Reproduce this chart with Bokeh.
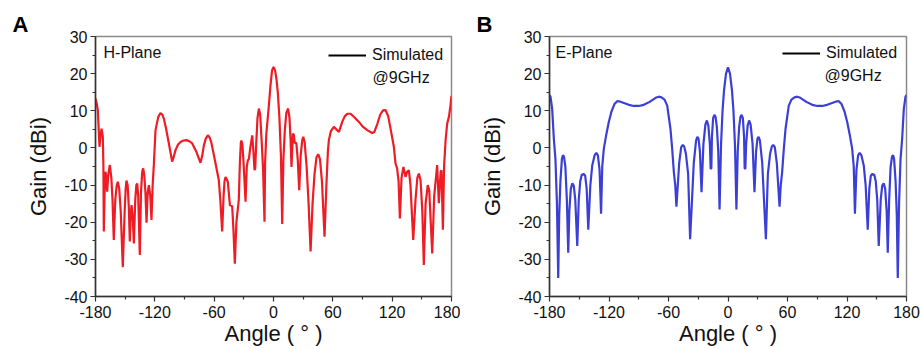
from bokeh.plotting import figure
from bokeh.layouts import row
from bokeh.models import Label, Legend, LegendItem, FixedTicker, Range1d
from bokeh.embed import file_html
from bokeh.resources import INLINE

# ---------------- data ----------------
x_ticks = [-180, -120, -60, 0, 60, 120, 180]
x_minor = [-150, -90, -30, 30, 90, 150]
y_ticks = [-40, -30, -20, -10, 0, 10, 20, 30]
y_minor = [-35, -25, -15, -5, 5, 15, 25]

h_angle = [-180, -178.8, -177.6, -176.6, -176, -175, -173.9, -172.6, -172, -171.6,
           -170.8, -169.9, -169, -168.2, -167, -165.5, -164, -162.8, -161.5, -160,
           -158.5, -157.4, -156, -154.5, -152.4, -150.5, -149.5, -148.7, -147.5, -146.3,
           -145.3, -144.5, -143.6, -142.5, -141.2, -139.8, -138.7, -137.8, -136.8, -135.2,
           -134, -132.8, -131.8, -130.8, -129.5, -128.4, -127.2, -126, -124.6, -123.4,
           -122.2, -121, -119.3, -116.6, -114.3, -112.5, -110.9, -108.5, -105.8, -102.5,
           -101, -99.1, -96.5, -94, -91, -88, -85, -82.2, -77.9, -73.8,
           -72, -70.4, -68.5, -66.4, -64.5, -63, -61, -58.6, -55.3, -53.8,
           -51.9, -50.5, -49.5, -48.5, -47.2, -46.2, -44.1, -41.8, -40.5, -39.1,
           -37.5, -35.1, -34, -33, -32.5, -31.5, -30.5, -29.5, -28.3, -27,
           -25.9, -24.9, -23.5, -21.5, -20.3, -19.2, -18.5, -17.5, -16.2, -14.8,
           -13.5, -12, -10.5, -9.1, -8.5, -7.2, -6, -4.5, -3, -1.5,
           0, 1.5, 3, 4.5, 6, 7.5, 8.8, 10, 11.5, 13,
           14.8, 16.2, 17.3, 18.2, 19.6, 20.5, 21.6, 22.5, 23.2, 24.5,
           26, 27.5, 29, 30.1, 31.5, 33.5, 35.5, 37.5, 39.5, 41.5,
           43.5, 45.2, 47, 49, 51.6, 53.5, 55, 56, 58, 61.1,
           63.5, 66.2, 69.5, 72, 74.6, 78, 82, 86.4, 90, 94.8,
           99.9, 102, 105, 108, 110.7, 113.3, 116, 118.5, 121.7, 123.4,
           125, 126.5, 127.8, 129.5, 131.4, 133.5, 135, 136.9, 138.5, 141.3,
           143.6, 145.5, 147, 148.7, 150.5, 152, 153.8, 156, 157.5, 160.5,
           162.5, 165.5, 167.2, 169, 169.9, 171.3, 172.5, 174, 175.6, 177.5,
           179, 180]
h_gain = [13.3, 12, 10.1, 4, 0.3, 3, 5.2, 3, -5, -22.5,
          -12, -6.4, -8, -11.8, -7, -4.6, -8, -14, -24.8, -14,
          -10, -9.1, -11, -17, -32.1, -17, -11, -8.8, -10, -16,
          -25.2, -19, -15.4, -18, -25.7, -14, -10, -9.6, -13, -28.8,
          -12, -6.5, -5.5, -7, -12, -20.1, -12, -10, -13, -19.4,
          -10, -4.5, 4.8, 8.3, 9.4, 9, 7.9, 5, 1.2, -3.7,
          -2.5, -0.6, 0.9, 1.6, 2, 2.1, 1.8, 1.2, -1.1, -4,
          -2, 0.7, 2.5, 3.4, 2.8, 1.6, -1, -4.2, -8.7, -14,
          -22.5, -13, -9, -7.8, -8.5, -9.1, -15.4, -15.7, -22, -31.2,
          -20, -14, -4, 1.5, 2, 1, -3, -8, -14.5, -5,
          -3.3, -3, 0, 3.4, -1, -6, -5.5, 1, 8, 10.6,
          9, 2, -6, -19.9, -4, 4, 7.5, 12, 17, 20.8,
          21.8, 21, 18.5, 14.5, 8, -2, -20.5, -3, 5, 9.5,
          10.6, 8, 2, -5.1, 3.9, 3.5, 1.2, 1.5, 1, -3,
          -11.4, -2, 2, 3, 1.5, -5, -15, -27.9, -15, -7,
          -2.5, -1.7, -3, -9, -23.9, -10, -1, 2.1, 4.5, 5.7,
          5, 4.3, 7, 8.5, 9.2, 9.2, 8.2, 7, 5.8, 4.8,
          4, 4.3, 6.5, 9, 10.1, 10.2, 8.5, 5, 0.3, -4.2,
          -5.5, -9, -19, -8, -5.1, -7.8, -6.5, -6, -10, -24.8,
          -14, -8, -6.9, -8.7, -17, -31.5, -15, -10, -11.5, -28.4,
          -13, -4.6, -14.9, -6.5, -6, -22, -5, 2, 6.5, 8.5,
          11.5, 14]

e_angle = [-180, -179, -177.3, -175.6, -174, -172.5, -171.2, -170.2, -169, -167.5,
           -166.5, -165.5, -164, -162.5, -161.1, -160, -158.5, -157, -155.5, -154,
           -152, -150.5, -149, -147.5, -145.5, -144, -142.5, -140.9, -138.8, -136.9,
           -134.5, -132.8, -131.2, -129.5, -128, -126.8, -125.2, -122.8, -120.2, -117.5,
           -114.5, -111.7, -109, -105, -100, -95, -90, -85, -79, -73,
           -69.8, -67, -64, -61.3, -58, -56.3, -54.6, -53.2, -52, -49.2,
           -47.2, -45.6, -44.2, -42.5, -40.2, -38.2, -34.5, -32.2, -30.9, -29.7,
           -28.3, -26.7, -24.8, -22.8, -21.3, -19.8, -18.3, -17.5, -16.8, -16.2,
           -15, -13.7, -12.5, -11.2, -9.8, -8.5, -7, -5.5, -4, -2,
           0, 2, 4, 5.5, 7, 8.5, 9.8, 11.2, 12.5, 13.7,
           15, 16.2, 16.8, 17.5, 18.3, 19.8, 21.3, 22.8, 24.8, 26.7,
           28.3, 29.7, 30.9, 32.2, 34.5, 38.2, 40.2, 42.5, 44.2, 45.6,
           47.2, 49.2, 52, 53.2, 54.6, 56.3, 58, 61.3, 64, 67,
           69.8, 73, 79, 85, 90, 95, 100, 105, 109, 111.7,
           114.5, 117.5, 120.2, 122.8, 125.2, 126.8, 128, 129.5, 131.2, 132.8,
           134.5, 136.9, 138.8, 140.9, 142.5, 144, 145.5, 147.5, 149, 150.5,
           152, 154, 155.5, 157, 158.5, 160, 161.1, 162.5, 164, 165.5,
           166.5, 167.5, 169, 170.2, 171.2, 172.5, 174, 175.6, 177.3, 179,
           180]
e_gain = [14.2, 13.8, 10.5, 2.4, -3, -15, -35, -18, -9, -3,
          -2, -2.2, -5, -14, -28.2, -17, -11, -9.5, -10.2, -14,
          -26.4, -14, -9, -7.2, -7, -7.5, -11, -22, -10, -4.7,
          -2, -1.3, -2, -6, -17.7, -5, -0.2, 3.5, 7, 9.8,
          11.8, 12.6, 12.5, 12.1, 11.6, 11.3, 11.3, 11.6, 12.4, 13.5,
          13.8, 13.6, 13, 11.4, 5.1, -0.2, -6.5, -10, -15.8, -4,
          0.2, 0.8, 0.4, -1.5, -7, -24.6, -4, 2, 3.0, 2.5,
          -1, -11.9, 1, 6.3, 7.4, 6, 1, -5.6, -5.5, 3,
          8, 8.9, 8.3, 5.5, -1, -16.6, 1, 10, 15.5, 20,
          21.7, 20, 15.5, 10, 1, -16.6, -1, 5.5, 8.3, 8.9,
          8, 3, -5.5, -5.6, 1, 6, 7.4, 6.3, 1, -11.9,
          -1, 2.5, 3.0, 2, -4, -24.6, -7, -1.5, 0.4, 0.8,
          0.2, -4, -15.8, -10, -6.5, -0.2, 5.1, 11.4, 13, 13.6,
          13.8, 13.5, 12.4, 11.6, 11.3, 11.3, 11.6, 12.1, 12.5, 12.6,
          11.8, 9.8, 7, 3.5, -0.2, -5, -17.7, -6, -2, -1.3,
          -2, -4.7, -10, -22, -11, -7.5, -7, -7.2, -9, -14,
          -26.4, -14, -10.2, -9.5, -11, -17, -28.2, -14, -5, -2.2,
          -2, -3, -9, -18, -35, -15, -3, 2.4, 10.5, 13.8,
          14.2]

assert len(h_angle) == len(h_gain), (len(h_angle), len(h_gain))
assert len(e_angle) == len(e_gain), (len(e_angle), len(e_gain))

FONT = "Liberation Sans"
FRAME_H = 260
TOP = 36
BOTTOM = 50


def panel(angles, gains, color, plane_text, letter, b_left, f_width, b_right,
          letter_off, legend_y, ghz_x, ghz_y, plane_x):
    p = figure(frame_width=f_width, frame_height=FRAME_H,
               min_border_left=b_left, min_border_right=b_right,
               min_border_top=TOP, min_border_bottom=BOTTOM,
               x_range=Range1d(-180, 180), y_range=Range1d(-40, 30),
               output_backend="svg", toolbar_location=None)
    p.xgrid.visible = False
    p.ygrid.visible = False
    p.outline_line_color = "#8a8a8a"
    p.outline_line_width = 1.5
    p.background_fill_color = "white"
    p.border_fill_color = "white"

    p.title.text = letter
    p.title.align = "left"
    p.title.offset = letter_off
    p.title.standoff = 0
    p.title.text_font = FONT
    p.title.text_font_size = "22px"
    p.title.text_font_style = "bold"
    p.title.text_color = "black"

    p.xaxis.ticker = FixedTicker(ticks=x_ticks, minor_ticks=x_minor)
    p.yaxis.ticker = FixedTicker(ticks=y_ticks, minor_ticks=y_minor)
    p.xaxis.major_label_overrides = {t: str(t) for t in x_ticks}
    p.yaxis.major_label_overrides = {t: str(t) for t in y_ticks}
    p.xaxis.axis_label = "Angle ( \u00b0 )"
    p.yaxis.axis_label = "Gain (dBi)"
    for ax in (p.xaxis[0], p.yaxis[0]):
        ax.axis_line_color = "#333333"
        ax.axis_line_width = 1.5
        ax.major_tick_line_color = "#333333"
        ax.minor_tick_line_color = "#333333"
        ax.major_tick_line_width = 1.2
        ax.minor_tick_line_width = 1.2
        ax.major_tick_out = 5
        ax.major_tick_in = 0
        ax.minor_tick_out = 3
        ax.minor_tick_in = 0
        ax.major_label_text_font = FONT
        ax.major_label_text_font_size = "16px"
        ax.major_label_text_color = "#111111"
        ax.axis_label_text_font = FONT
        ax.axis_label_text_font_size = "22px"
        ax.axis_label_text_font_style = "normal"
        ax.axis_label_text_color = "#111111"
    p.xaxis.major_label_standoff = 4
    p.xaxis.axis_label_standoff = 0
    p.yaxis.major_label_standoff = 3
    p.yaxis.axis_label_standoff = 10

    p.line(angles, gains, color=color, line_width=2.2)

    dummy = p.line([float("nan")], [float("nan")], color="black", line_width=2)
    leg = Legend(items=[LegendItem(label="Simulated", renderers=[dummy])],
                 location=(233, legend_y), padding=0, margin=0, spacing=0,
                 glyph_width=38, glyph_height=18, label_height=18,
                 label_standoff=6, label_text_font=FONT,
                 label_text_font_size="16px", label_text_color="#111111",
                 border_line_alpha=0, background_fill_alpha=0)
    p.add_layout(leg)

    p.add_layout(Label(x=ghz_x, y=ghz_y, x_units="screen", y_units="screen",
                       text="@9GHz", text_font=FONT, text_font_size="16px",
                       text_color="#111111", text_baseline="middle"))
    p.add_layout(Label(x=plane_x, y=244, x_units="screen", y_units="screen",
                       text=plane_text, text_font=FONT, text_font_size="16px",
                       text_color="#111111", text_baseline="middle"))
    return p


left = panel(h_angle, h_gain, "#ee1c24", "H-Plane", "A", 95, 356, 9,
             -83, 232, 277, 219, 8)
right = panel(e_angle, e_gain, "#3b3fd6", "E-Plane", "B", 89, 357, 15,
              -73, 234, 275, 221, 6)

layout = row(left, right)
open("out.html", "w").write(file_html(layout, INLINE))
